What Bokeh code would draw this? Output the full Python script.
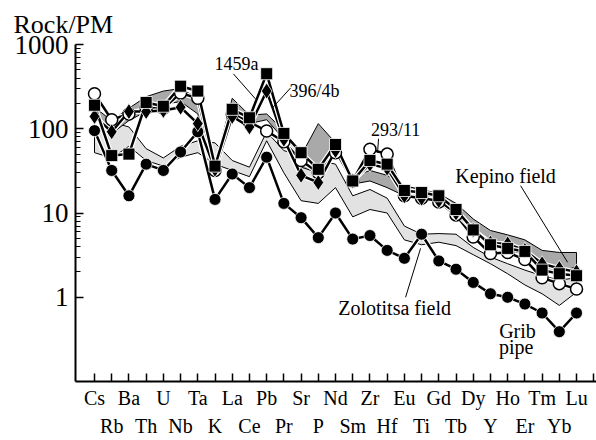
from bokeh.plotting import figure
from bokeh.models import Range1d, FixedTicker, CustomJSTickFormatter, Label, ColumnDataSource
from bokeh.embed import file_html
from bokeh.resources import INLINE

elements = ["Cs", "Rb", "Ba", "Th", "U", "Nb", "Ta", "K", "La", "Ce", "Pb", "Pr", "Sr", "P",
            "Nd", "Sm", "Zr", "Hf", "Eu", "Ti", "Gd", "Tb", "Dy", "Y", "Ho", "Er", "Tm", "Yb", "Lu"]

grib_pipe = [95, 32, 16, 38, 32, 53, 92, 14.5, 29, 20, 46, 13, 8.8, 5.1, 10, 4.9, 5.4, 3.6, 2.9,
             5.6, 2.7, 2.15, 1.5, 1.1, 1.0, 0.83, 0.65, 0.39, 0.65]
s1459a = [190, 48, 50, 205, 185, 320, 280, 36, 170, 135, 450, 88, 52, 33, 65, 24, 42, 38, 18.5,
          17.5, 16, 11, 6.3, 4.2, 3.8, 3.5, 2.1, 1.9, 1.8]
s396_4b = [140, 92, 160, 160, 165, 180, 115, 33, 140, 105, 280, 75, 28, 23, 55, 24, 38, 34, 16,
           15, 14, 10, 6.3, 4.4, 4.3, 3.6, 2.5, 2.2, 2.0]
s293_11 = [260, 128, 150, 175, 175, 265, 230, 32, 150, 120, 94, 70, 42, 30, 52, 24, 57, 50, 16,
           15, 13.5, 9.5, 5.2, 3.3, 3.4, 2.8, 1.7, 1.45, 1.25]

kepino_upper = [180, 125, 175, 240, 280, 300, 230, 37, 230, 145, 150, 95, 48, 115, 68, 27, 32, 28,
                21, 19, 17, 13, 8.5, 6.2, 5.5, 4.8, 3.6, 3.4, 3.4]
kepino_lower = [130, 88, 125, 160, 195, 210, 150, 30, 155, 115, 128, 75, 35, 30, 50, 22, 24, 20,
                16, 15, 13, 10, 6.0, 4.0, 3.7, 3.2, 2.0, 2.0, 2.3]
zolotitsa_upper = [100, 120, 105, 58, 45, 62, 72, 68, 42, 35, 92, 55, 48, 42, 38, 16, 19, 15,
                   7.0, 5.6, 5.7, 5.6, 3.9, 3.0, 2.5, 2.1, 1.8, 1.6, 1.7]
zolotitsa_lower = [52, 45, 62, 42, 36, 46, 52, 38, 32, 27, 72, 30, 14, 13, 20, 9, 11, 10,
                   4.8, 4.2, 4.5, 4.1, 3.2, 2.5, 1.9, 1.4, 1.1, 0.8, 1.15]

y_ticks = [1, 10, 100, 1000]
y_minor = [2, 3, 4, 5, 6, 7, 8, 9, 20, 30, 40, 50, 60, 70, 80, 90,
           200, 300, 400, 500, 600, 700, 800, 900]
x_ticks = list(range(len(elements) + 1))

# annotation texts: (text, x, y, size)
notes = [("1459a", 8.25, 588, "18px"), ("396/4b", 12.78, 282, "18px"), ("293/11", 17.49, 97, "18px"),
         ("Kepino field", 23.88, 27.8, "20px"), ("Zolotitsa field", 17.43, 0.74, "20px"),
         ("Grib", 24.57, 0.40, "20px"), ("pipe", 24.5, 0.255, "20px")]
pointers_x0 = [8.07, 11.39, 16.5, 24.75, 18.07]
pointers_y0 = [448, 305, 76, 21.1, 1.0]
pointers_x1 = [9.35, 10.34, 16.44, 27.48, 18.94]
pointers_y1 = [226, 177, 52, 2.6, 3.8]

FONT = "Liberation Serif"
idx = list(range(len(elements)))

p = figure(width=596, height=440, x_range=Range1d(-1.104, 29.16), y_range=Range1d(0.1, 1000),
           y_axis_type="log", output_backend="svg", toolbar_location=None,
           min_border_left=75, min_border_right=0, min_border_top=44, min_border_bottom=57)
p.outline_line_color = None
p.xgrid.visible = False
p.ygrid.visible = False

p.title.text = "Rock/PM"
p.title.align = "left"
p.title.offset = -62
p.title.standoff = 11
p.title.text_font = FONT
p.title.text_font_size = "26px"
p.title.text_font_style = "normal"
p.title.text_color = "black"

# fields
p.patch(idx + idx[::-1], zolotitsa_upper + zolotitsa_lower[::-1], fill_color="#e2e2e2",
        line_color="black", line_width=1)
p.patch(idx + idx[::-1], kepino_upper + kepino_lower[::-1], fill_color="#a9a9a9",
        line_color="black", line_width=1)

series = [(grib_pipe, "circle", "black", 12), (s293_11, "circle", "white", 12),
          (s396_4b, "diamond", "black", 16), (s1459a, "square", "black", 12)]
for vals, mk, fill, sz in series:
    src = ColumnDataSource(dict(x=idx, y=vals))
    p.line("x", "y", source=src, line_color="white", line_width=5)
    p.line("x", "y", source=src, line_color="black", line_width=2.5)
for vals, mk, fill, sz in series:
    src = ColumnDataSource(dict(x=idx, y=vals))
    p.scatter("x", "y", source=src, marker=mk, size=sz, fill_color=fill,
              line_color="black" if fill == "white" else "white",
              line_width=1.5 if fill == "white" else 0.8)

p.segment(x0=pointers_x0, y0=pointers_y0, x1=pointers_x1, y1=pointers_y1,
          line_color="black", line_width=1)

for t, x, y, sz in notes:
    p.add_layout(Label(x=x, y=y, text=t, text_font=FONT, text_font_size=sz,
                       text_align="center", text_baseline="middle", text_color="black"))

# axes
xa = p.xaxis[0]
xa.ticker = FixedTicker(ticks=x_ticks)
xa.formatter = CustomJSTickFormatter(args=dict(labels=elements),
                                     code="const i = Math.round(tick); if (i >= labels.length) return ''; return (i % 2 == 1 ? '\\n' : '') + labels[i];")
xa.major_tick_in = 8
xa.major_tick_out = 0
xa.minor_tick_in = 0
xa.minor_tick_out = 0
xa.axis_line_width = 2
xa.major_tick_line_width = 1.5
xa.major_label_standoff = 5
xa.major_label_text_font = FONT
xa.major_label_text_font_size = "20px"
xa.major_label_text_line_height = 1.3
xa.major_label_text_color = "black"

ya = p.yaxis[0]
ya.ticker = FixedTicker(ticks=y_ticks, minor_ticks=y_minor)
ya.formatter = CustomJSTickFormatter(code="return Math.round(tick).toString();")
ya.major_tick_in = 8
ya.major_tick_out = 0
ya.minor_tick_in = 5
ya.minor_tick_out = 0
ya.axis_line_width = 2
ya.major_tick_line_width = 1.5
ya.major_label_standoff = 7
ya.major_label_text_font = FONT
ya.major_label_text_font_size = "27px"
ya.major_label_text_color = "black"

open("out.html", "w").write(file_html(p, INLINE))
